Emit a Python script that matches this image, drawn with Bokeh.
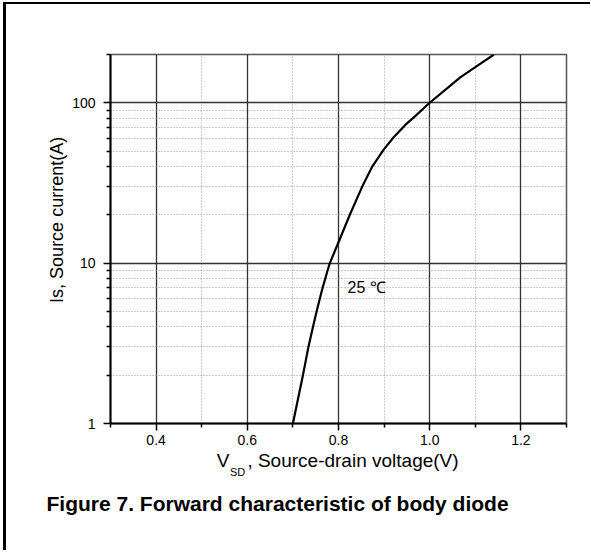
import math
from bokeh.plotting import figure
from bokeh.models import (FixedTicker, BasicTickFormatter, PrintfTickFormatter,
                          Label, LinearAxis, LogAxis, Title)
from bokeh.embed import file_html
from bokeh.resources import INLINE

# Data (25 °C forward characteristic)
vsd = [0.700, 0.722, 0.734, 0.744, 0.752, 0.759, 0.765, 0.771, 0.776, 0.781,
       0.800, 0.826, 0.852, 0.874, 0.899, 0.921, 0.947, 0.967, 1.000, 1.038,
       1.067, 1.100, 1.141]
i_s = [1, 2, 3, 4, 5, 6, 7, 8, 9, 10,
       13.5, 20.4, 30, 40, 51, 61, 73, 82, 100, 123,
       144, 167, 200]

x_major = [0.4, 0.6, 0.8, 1.0, 1.2]
x_minor = [0.3, 0.5, 0.7, 0.9, 1.1, 1.3]
y_major = [1, 10, 100]
y_minor = [2, 3, 4, 5, 6, 7, 8, 9, 20, 30, 40, 50, 60, 70, 80, 90, 200]

FONT = "Liberation Sans"

p = figure(width=590, height=550, x_range=(0.3, 1.3), y_range=(1, 200),
           y_axis_type="log", output_backend="svg", toolbar_location=None,
           min_border_left=110, min_border_right=24, min_border_top=54,
           min_border_bottom=127)
# outer frame of the figure box (top and left edges visible)
p.border_fill_alpha = 0
p.styles = {"background-color": "white",
            "box-shadow": "inset 3px 2px 0 0 white, inset 6px 4px 0 0 black"}

p.background_fill_color = "white"
p.outline_line_color = "#555555"
p.outline_line_width = 1.5

p.xaxis.ticker = FixedTicker(ticks=x_major, minor_ticks=x_minor)
p.yaxis.ticker = FixedTicker(ticks=y_major, minor_ticks=y_minor)
p.yaxis.formatter = BasicTickFormatter()
p.xaxis.formatter = PrintfTickFormatter(format="%.1f")

for ax in (p.xaxis, p.yaxis):
    ax.axis_line_color = "black"
    ax.axis_line_width = 2
    ax.major_tick_line_color = "black"
    ax.major_tick_line_width = 1.5
    ax.minor_tick_line_color = "black"
    ax.minor_tick_line_width = 1.5
    ax.major_tick_in = 0
    ax.major_tick_out = 7
    ax.minor_tick_in = 0
    ax.minor_tick_out = 4
    ax.major_label_text_font = FONT
    ax.major_label_text_font_size = "14px"
    ax.major_label_text_color = "black"
p.xaxis.major_label_standoff = 4
p.yaxis.major_label_standoff = 8

for g in (p.xgrid, p.ygrid):
    g.grid_line_color = "#333333"
    g.grid_line_width = 1.3
    g.minor_grid_line_color = "#999999"
    g.minor_grid_line_width = 1
    g.minor_grid_line_dash = "1 2"

p.line(vsd, i_s, line_color="black", line_width=2.2, line_join="round")

p.add_layout(Label(x=0.82, y=7.0, text="25 \u2103", text_font=FONT,
                   text_font_size="16px", text_baseline="middle",
                   text_align="left", text_color="black"))


def label_axis(axis, size, standoff, style="normal"):
    axis.axis_line_color = None
    axis.major_tick_line_color = None
    axis.minor_tick_line_color = None
    axis.major_tick_out = 0
    axis.major_tick_in = 0
    axis.minor_tick_out = 0
    axis.minor_tick_in = 0
    axis.major_label_text_font = FONT
    axis.major_label_text_font_size = size
    axis.major_label_text_font_style = style
    axis.major_label_text_color = "black"
    axis.major_label_standoff = standoff
    return axis


# x-axis title "V_SD, Source-drain voltage(V)" built from tick labels
x_v, x_rest, x_sd = 0.5467, 0.8318, 0.5789
ax_main = LinearAxis(ticker=FixedTicker(ticks=[x_v, x_rest], minor_ticks=[]),
                     major_label_overrides={x_v: "V",
                                            x_rest: ", Source-drain voltage(V)"})
label_axis(ax_main, "19px", 2)
p.add_layout(ax_main, "below")
ax_sub = LinearAxis(ticker=FixedTicker(ticks=[x_sd], minor_ticks=[]),
                    major_label_overrides={x_sd: "SD"})
label_axis(ax_sub, "11px", -8)
p.add_layout(ax_sub, "below")

# y-axis title
y_lab = 61.3
ay = LogAxis(ticker=FixedTicker(ticks=[y_lab], minor_ticks=[]),
             major_label_overrides={y_lab: "Is, Source current(A)"},
             major_label_orientation=math.pi / 2)
label_axis(ay, "18px", 12)
p.add_layout(ay, "left")

# caption
cap = Title(text="Figure 7. Forward characteristic of body diode",
            align="left", offset=-64, standoff=19, text_font=FONT,
            text_font_size="21px", text_font_style="bold", text_color="black")
p.add_layout(cap, "below")

open("out.html", "w").write(file_html(p, INLINE))
